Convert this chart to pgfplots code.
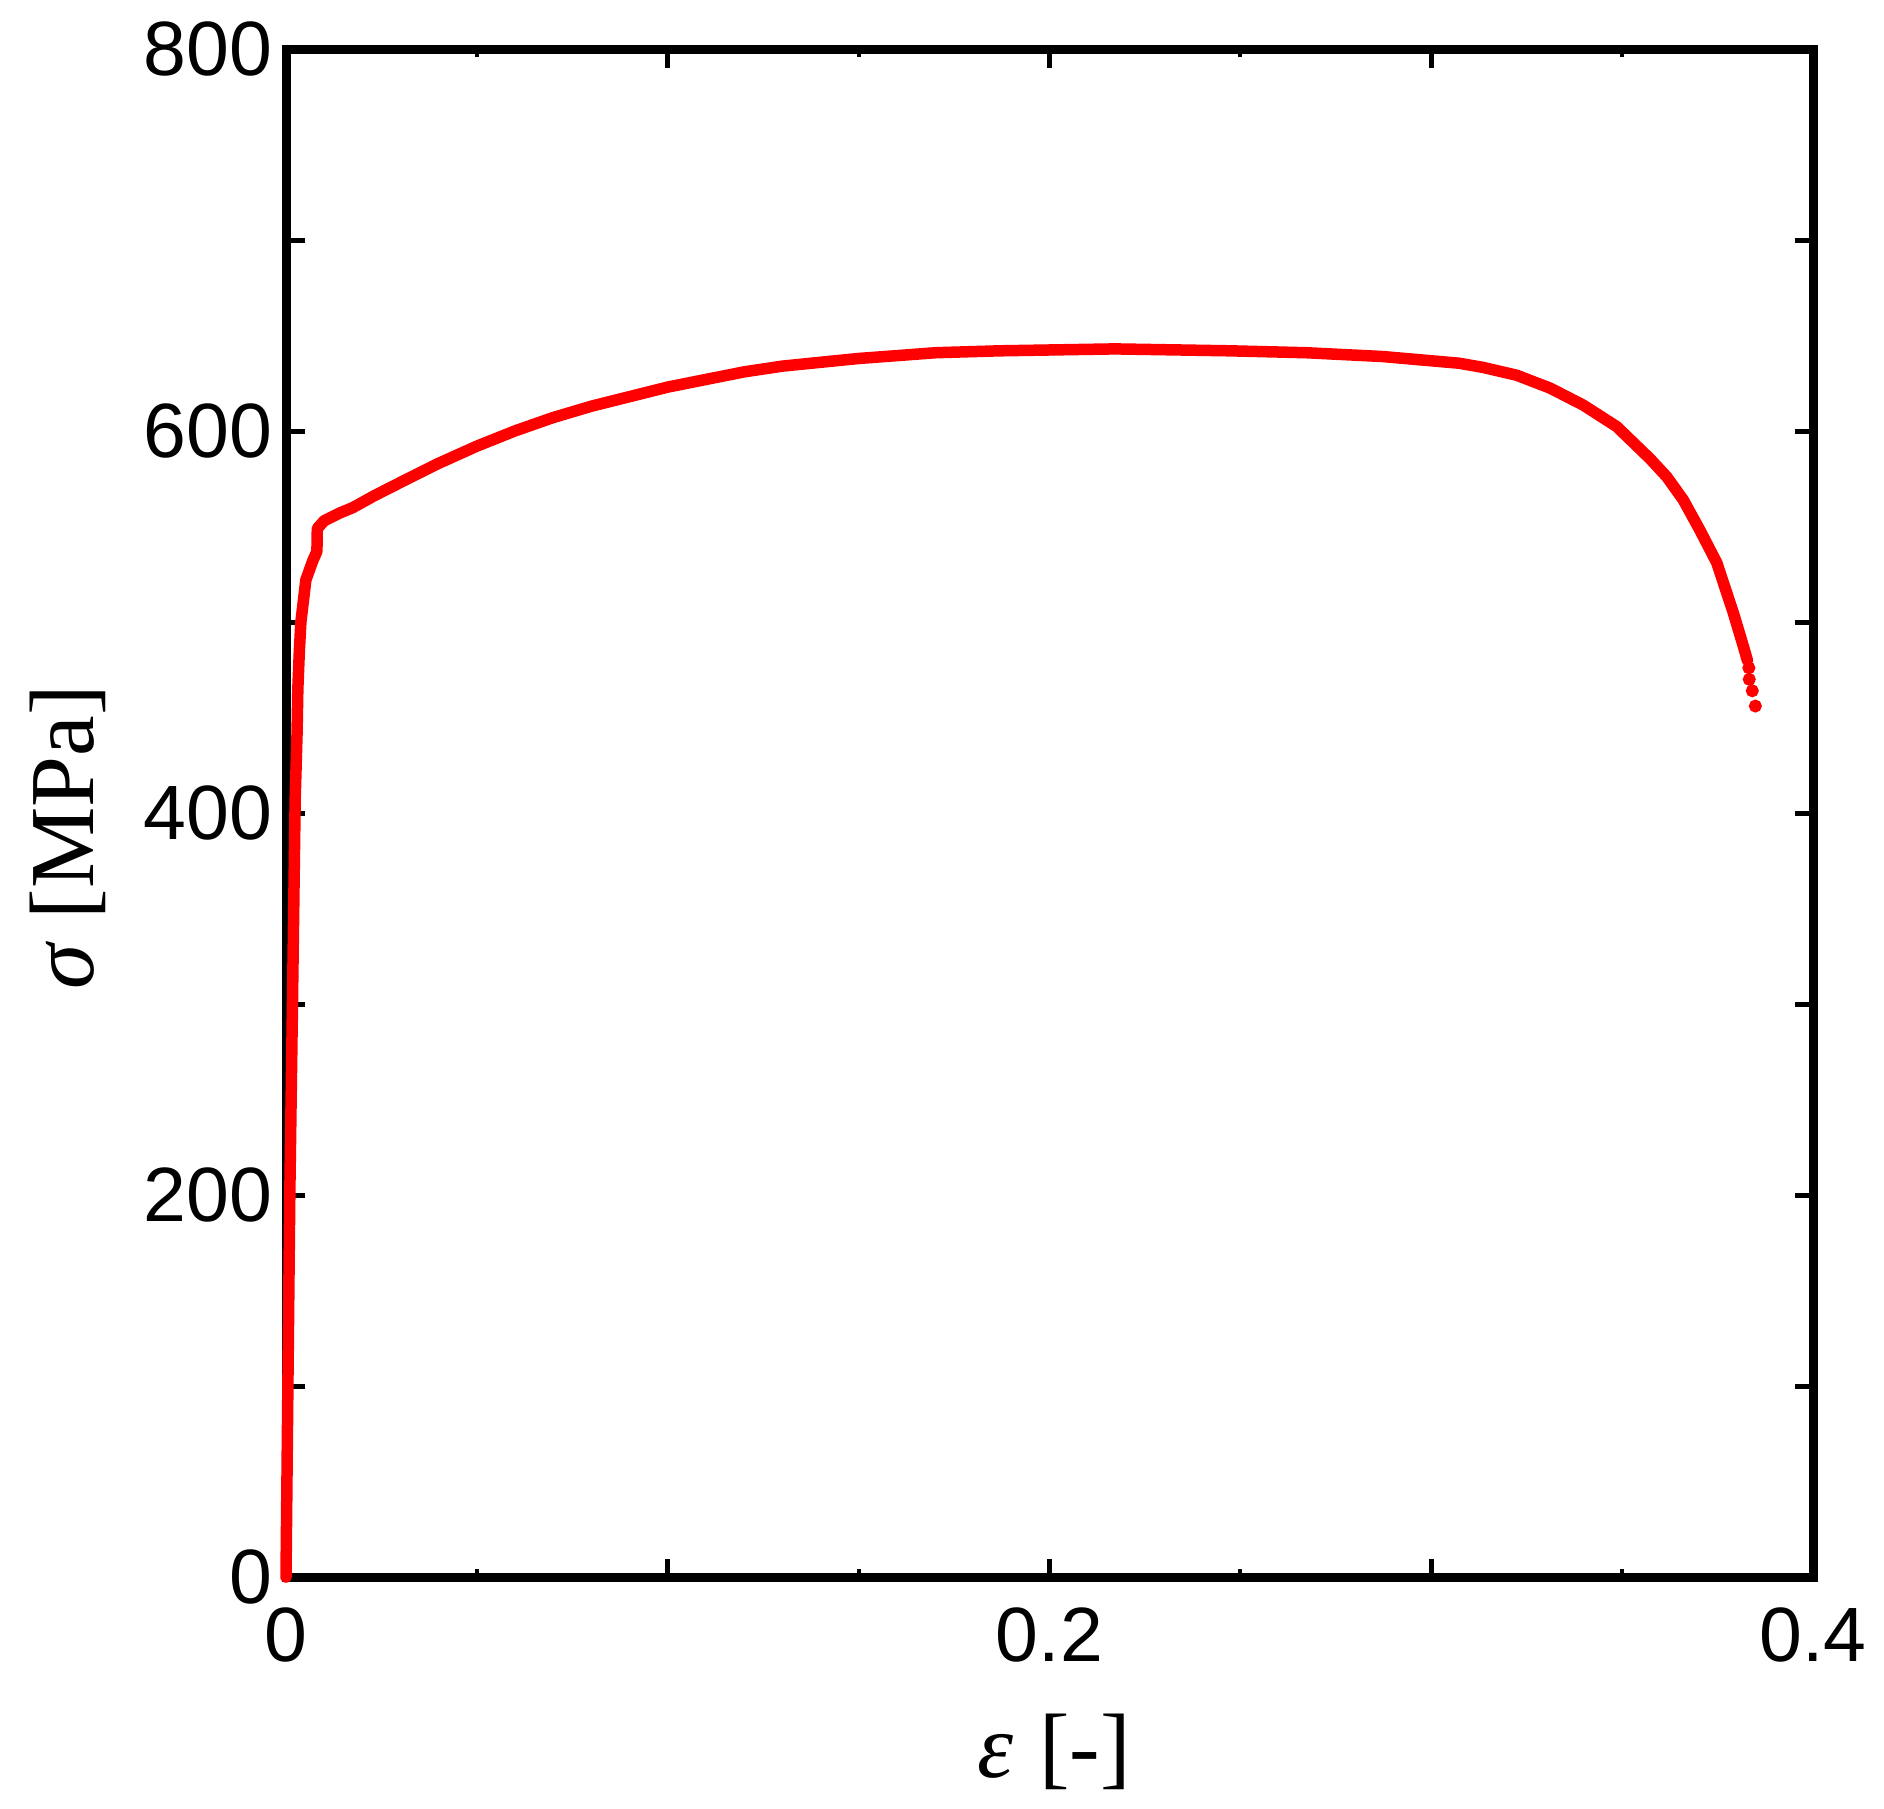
\documentclass[border=0pt]{standalone}
\usepackage{pgfplots}
\pgfplotsset{compat=1.18}
\usepackage{fontspec}
\setmainfont{Liberation Sans}
\newfontfamily\timesfont{Liberation Serif}

\begin{document}
\begin{tikzpicture}
    \begin{axis}[
            width=305.4pt, height=305.6pt,
            scale only axis,
            xmin=0, xmax=0.4,
            ymin=0, ymax=800,
            clip=false,
            xtick={0,0.1,0.2,0.3,0.4},
            xticklabels={0,,0.2,,0.4},
            minor x tick num=1,
            ytick={0,100,...,800},
            yticklabels={0,,200,,400,,600,,800},
            tick align=inside,
            major tick length=3.7pt,
            minor tick length=1.6pt,
            every tick/.style={black, line width=1pt},
            every minor tick/.style={black, line width=0.8pt},
            axis line style={black, line width=1.8pt},
            tick label style={font=\fontsize{15.4}{18}\selectfont, inner sep=0pt},
            xticklabel shift=6pt,
            yticklabel shift=2.6pt,
            xlabel={{\timesfont\itshape ε} {\timesfont [-]}},
            ylabel={{\timesfont\itshape σ} {\timesfont [MPa]}},
            label style={font=\fontsize{18.3}{22}\selectfont},
            xlabel style={at={(axis description cs:0.503,-0.1142)}, anchor=center},
            ylabel style={at={(axis description cs:-0.1428,0.484)}, anchor=center, rotate=0},
        ]

        % measured curve
        \addplot[red, line width=2.3pt, line join=round, line cap=round] coordinates {
                (0,0) (0.0005,101) (0.0010,201) (0.0017,301) (0.0024,407)
                (0.0029,442) (0.0031,465) (0.0035,485) (0.0039,500) (0.0052,522)
                (0.0070,532) (0.0081,537) (0.0082,549) (0.0100,553) (0.0140,557)
                (0.0176,560) (0.0230,566) (0.0299,573) (0.0399,583) (0.0499,592)
                (0.0599,600) (0.0699,607) (0.0800,613) (0.0900,618) (0.1000,623)
                (0.1100,627) (0.1201,631) (0.1301,634) (0.1401,636) (0.1501,638)
                (0.1602,639.5) (0.1702,641) (0.1870,642) (0.2171,643) (0.2472,642)
                (0.2672,641) (0.2873,639) (0.3073,635.5) (0.3136,633.3) (0.3224,629.2)
                (0.3311,622.5) (0.3398,613.6) (0.3486,602.3) (0.3573,585.5) (0.3617,576)
                (0.3660,564) (0.3704,548) (0.3748,531) (0.3791,505) (0.3818,487)
                (0.3828,480)
            };

        % last points before fracture
        \addplot[red, only marks, mark=*, mark size=1.1pt] coordinates {
                (0.3832,476) (0.3833,470) (0.3841,464) (0.3849,456)
            };

    \end{axis}
    \pgfresetboundingbox
    \path (-57.2pt,-46.2pt) rectangle (319.6pt,315.4pt);
\end{tikzpicture}
\end{document}
